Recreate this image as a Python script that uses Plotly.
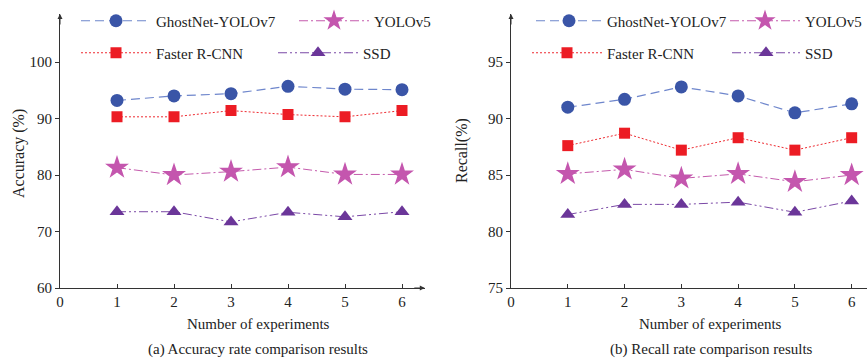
import plotly.graph_objects as go

experiments = [1, 2, 3, 4, 5, 6]
series_names = ["GhostNet-YOLOv7", "Faster R-CNN", "YOLOv5", "SSD"]

acc_ghostnet = [93.2, 94.0, 94.4, 95.7, 95.2, 95.1]
acc_faster = [90.3, 90.3, 91.4, 90.7, 90.3, 91.4]
acc_yolov5 = [81.3, 80.0, 80.6, 81.4, 80.1, 80.1]
acc_ssd = [73.5, 73.5, 71.7, 73.4, 72.6, 73.5]

rec_ghostnet = [91.0, 91.7, 92.8, 92.0, 90.5, 91.3]
rec_faster = [87.6, 88.7, 87.2, 88.3, 87.2, 88.3]
rec_yolov5 = [85.1, 85.5, 84.7, 85.1, 84.4, 85.0]
rec_ssd = [81.5, 82.4, 82.4, 82.6, 81.7, 82.7]

acc_ticks = [60, 70, 80, 90, 100]
rec_ticks = [75, 80, 85, 90, 95]
x_ticks = [0, 1, 2, 3, 4, 5, 6]

FONT = "Liberation Serif, Times New Roman, serif"
W, H = 867, 358

styles = [
    dict(line=dict(color="#6e86cc", width=1.2, dash="9px,5px"),
         marker=dict(symbol="circle", size=13, color="#3a55a7")),
    dict(line=dict(color="#ee2a30", width=1, dash="2px,2px"),
         marker=dict(symbol="square", size=11, color="#ec1c24")),
    dict(line=dict(color="#c45aac", width=1, dash="9px,3px,2px,3px"),
         marker=dict(symbol="star", size=18, color="#c456ae")),
    dict(line=dict(color="#7a48a6", width=1, dash="9px,3px,2px,3px,2px,3px"),
         marker=dict(symbol="triangle-up", size=13, color="#6b3699")),
]

left_vals = [acc_ghostnet, acc_faster, acc_yolov5, acc_ssd]
right_vals = [rec_ghostnet, rec_faster, rec_yolov5, rec_ssd]

# legend layout: (left-edge px, row-centre px, item width px)
leg_left = [(76, 21, 70), (76, 53, 70), (294, 21, 70), (273, 53, 80)]
leg_right = [(531, 21, 66), (527, 53, 70), (725, 21, 70), (727, 53, 68)]

fig = go.Figure()
for i, name in enumerate(series_names):
    fig.add_trace(go.Scatter(x=experiments, y=left_vals[i], name=name, mode="lines+markers",
                             xaxis="x", yaxis="y", legend="legend" if i == 0 else f"legend{i+1}",
                             **styles[i]))
for i, name in enumerate(series_names):
    fig.add_trace(go.Scatter(x=experiments, y=right_vals[i], name=name, mode="lines+markers",
                             xaxis="x2", yaxis="y2", legend=f"legend{i+5}",
                             **styles[i]))

legfont = dict(family=FONT, size=15, color="#222")
legends = {}
for i in range(4):
    key = "legend" if i == 0 else f"legend{i+1}"
    lx, ly, lw = leg_left[i]
    legends[key] = dict(x=lx / W, y=1 - ly / H, xanchor="left", yanchor="middle",
                        bgcolor="rgba(0,0,0,0)", itemwidth=lw, font=legfont)
    rx, ry, rw = leg_right[i]
    legends[f"legend{i+5}"] = dict(x=rx / W, y=1 - ry / H, xanchor="left", yanchor="middle",
                                   bgcolor="rgba(0,0,0,0)", itemwidth=rw, font=legfont)

ydom = [(358 - 288) / H, (358 - 14) / H]
axis_common = dict(showgrid=False, zeroline=False, showline=True, linecolor="#333", linewidth=1,
                   tickfont=dict(family=FONT, size=15, color="#222"), ticklen=4, tickcolor="#333")

fig.update_layout(
    width=W, height=H, margin=dict(l=0, r=0, t=0, b=0, autoexpand=False), showlegend=True,
    paper_bgcolor="white", plot_bgcolor="white",
    xaxis=dict(domain=[60 / W, 424.8 / W], range=[0, 6.4], tickvals=x_ticks, ticks="inside",
               anchor="y", **axis_common),
    yaxis=dict(domain=ydom, range=[60, 108.5], tickvals=acc_ticks, ticks="outside",
               anchor="x", **axis_common),
    xaxis2=dict(domain=[511 / W, 1.0], range=[0, 6.27], tickvals=x_ticks, ticks="inside",
                anchor="y2", **axis_common),
    yaxis2=dict(domain=ydom, range=[75, 99.25], tickvals=rec_ticks, ticks="outside",
                anchor="x2", **axis_common),
    **legends,
)

ann = []
for xr, yr in [("x", "y"), ("x2", "y2")]:
    ann.append(dict(x=0, y=1, xref=f"{xr} domain", yref=f"{yr} domain", ax=0, ay=12,
                    showarrow=True, arrowhead=2, arrowsize=1, arrowwidth=1,
                    arrowcolor="#333", text=""))
ann.append(dict(x=1, y=0, xref="x domain", yref="y domain", ax=-12, ay=0, showarrow=True,
                arrowhead=2, arrowsize=1, arrowwidth=1, arrowcolor="#333", text=""))

txt = dict(family=FONT, size=15, color="#222")
cap = dict(family=FONT, size=15, color="#222")
ytl = dict(family=FONT, size=16, color="#222")
ann += [
    dict(x=258 / W, y=1 - 324 / H, xref="paper", yref="paper", text="Number of experiments",
         showarrow=False, font=txt, xanchor="center", yanchor="middle"),
    dict(x=258 / W, y=1 - 349 / H, xref="paper", yref="paper",
         text="(a) Accuracy rate comparison results", showarrow=False, font=cap,
         xanchor="center", yanchor="middle"),
    dict(x=710 / W, y=1 - 324 / H, xref="paper", yref="paper", text="Number of experiments",
         showarrow=False, font=txt, xanchor="center", yanchor="middle"),
    dict(x=711 / W, y=1 - 349 / H, xref="paper", yref="paper",
         text="(b) Recall rate comparison results", showarrow=False, font=cap,
         xanchor="center", yanchor="middle"),
    dict(x=19 / W, y=1 - 154 / H, xref="paper", yref="paper", text="Accuracy (%)", textangle=-90,
         showarrow=False, font=ytl, xanchor="center", yanchor="middle"),
    dict(x=462 / W, y=1 - 150 / H, xref="paper", yref="paper", text="Recall(%)", textangle=-90,
         showarrow=False, font=ytl, xanchor="center", yanchor="middle"),
]
fig.update_layout(annotations=ann)

fig.write_html("out.html")
